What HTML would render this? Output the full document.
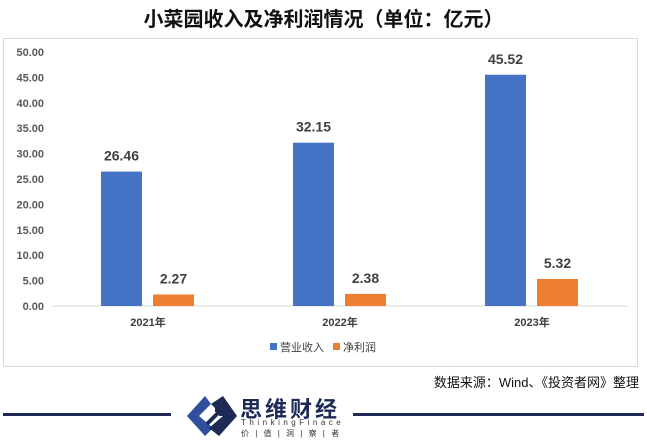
<!DOCTYPE html>
<html><head><meta charset="utf-8"><style>
body{margin:0;width:647px;height:440px;background:#fff;position:relative;overflow:hidden;font-family:"Liberation Sans","Noto Sans CJK SC",sans-serif}
.t{position:absolute;white-space:nowrap}
</style></head><body>
<div class="t" style="left:0;width:647px;top:3px;text-align:center;font-size:20px;font-weight:bold;color:#111">小菜园收入及净利润情况（单位：亿元）</div>
<div style="position:absolute;left:3px;top:38px;width:633px;height:327px;border:1px solid #d9d9d9"></div>
<svg id="c" width="647" height="440" style="position:absolute;left:0;top:0"></svg>
<div class="t" style="right:8px;top:372px;font-size:13px;color:#111">数据来源：Wind、《投资者网》整理</div>
<div style="position:absolute;left:3px;top:413px;width:168px;height:3px;background:#1c2a55"></div>
<div style="position:absolute;left:353px;top:413px;width:291px;height:3px;background:#1c2a55"></div>
<svg width="56" height="50" style="position:absolute;left:183px;top:392px"><path d="M22 4 L4 24 L22 44 L30 36 L16 24 L28 12 Z" fill="#2f4f9e"/><path d="M28 12 L40 4 L54 24 L36 44 L26 36 L40 24 Z" fill="#1c2a55"/><path d="M24 32 L38 18 M32 18 L38 18 L38 24" stroke="#1c2a55" stroke-width="4" fill="none"/></svg>
<div class="t" style="left:240px;top:392px;font-size:22px;font-weight:bold;color:#1c2a55;letter-spacing:3px">思维财经</div>
<div class="t" style="left:241px;top:418px;font-size:8px;color:#333;letter-spacing:3.5px">ThinkingFinace</div>
<div class="t" style="left:241px;top:428px;font-size:8px;color:#333;letter-spacing:2px">价 | 值 | 洞 | 察 | 者</div>
<script>
const categories=["2021年","2022年","2023年"];
const revenue=[26.46,32.15,45.52];
const profit=[2.27,2.38,5.32];
const ticks=[0,5,10,15,20,25,30,35,40,45,50];
const svg=document.getElementById('c');const ns='http://www.w3.org/2000/svg';
const y0=306,y1=52,vmax=50;
const y=v=>y0-(v/vmax)*(y0-y1);
const left=52,right=628,band=(right-left)/categories.length;
const cx=i=>left+band*(i+0.5);
function el(t,a,txt){const e=document.createElementNS(ns,t);for(const k in a)e.setAttribute(k,a[k]);if(txt!==undefined)e.textContent=txt;svg.appendChild(e);return e;}
ticks.forEach(v=>{const e=el('text',{x:44,y:y(v)+4,'text-anchor':'end','font-size':11,'font-weight':'bold',fill:'#595959'},v.toFixed(2));

});
const ax=el('line',{x1:left,x2:right,y1:y0,y2:y0,stroke:'#d9d9d9'});


categories.forEach((c,i)=>{
const bw=41;
const b1=el('rect',{x:cx(i)-47,y:y(revenue[i]),width:bw,height:y0-y(revenue[i]),fill:'#4472c4'});


const b2=el('rect',{x:cx(i)+5,y:y(profit[i]),width:bw,height:y0-y(profit[i]),fill:'#ed7d31'});


const l1=el('text',{x:cx(i)-26.5,y:y(revenue[i])-11,'text-anchor':'middle','font-size':14,'font-weight':'bold',fill:'#404040'},revenue[i].toFixed(2));


const l2=el('text',{x:cx(i)+25.5,y:y(profit[i])-11,'text-anchor':'middle','font-size':14,'font-weight':'bold',fill:'#404040'},profit[i].toFixed(2));


const xl=el('text',{x:cx(i),y:326,'text-anchor':'middle','font-size':11,'font-weight':'bold',fill:'#404040'},c);


});
const s1=el('rect',{x:270,y:343,width:7,height:7,fill:'#4472c4'});


const t1=el('text',{x:280,y:351,'font-size':11,fill:'#404040'},'营业收入');


const s2=el('rect',{x:333,y:343,width:7,height:7,fill:'#ed7d31'});


const t2=el('text',{x:343,y:351,'font-size':11,fill:'#404040'},'净利润');


</script>
</body></html>
